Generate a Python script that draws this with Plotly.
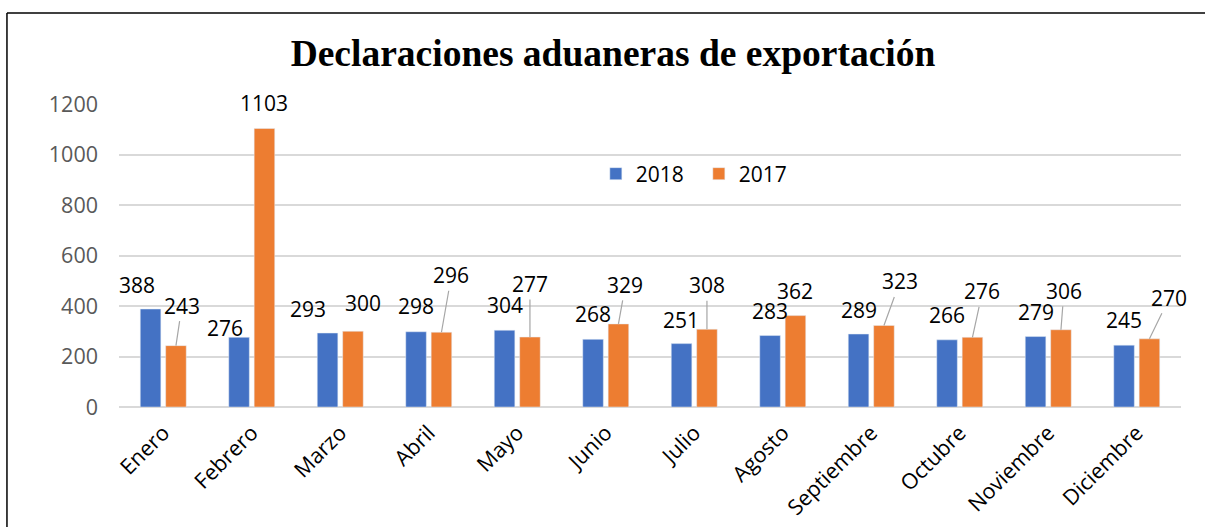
import plotly.graph_objects as go

months = ["Enero", "Febrero", "Marzo", "Abril", "Mayo", "Junio", "Julio",
          "Agosto", "Septiembre", "Octubre", "Noviembre", "Diciembre"]
v2018 = [388, 276, 293, 298, 304, 268, 251, 283, 289, 266, 279, 245]
v2017 = [243, 1103, 300, 296, 277, 329, 308, 362, 323, 276, 306, 270]
yticks = [0, 200, 400, 600, 800, 1000, 1200]

# label placement (pixel offsets from bar top) as in the original chart
off2018 = [(-14, -24), (-14, -9), (-20, -24), (0, -26), (0, -25), (0, -25),
           (-1, -24), (0, -25), (0, -24), (0, -25), (0, -25), (0, -25)]
off2017 = [(6, -40), (0, -25), (10, -28), (10, -57), (0, -53), (7, -39),
           (0, -44), (0, -25), (16, -44), (10, -46), (3, -39), (20, -41)]
leader2017 = [True, False, False, True, True, True, True, False, True, True, True, True]

BLUE = "#4472C4"
ORANGE = "#ED7D31"
FONT = "Open Sans"
bargap = 0.426
bargroupgap = 0.19
half = (1 - bargap) / 4

x = list(range(len(months)))
fig = go.Figure()
fig.add_trace(go.Bar(x=x, y=v2018, name="2018", marker_color=BLUE))
fig.add_trace(go.Bar(x=x, y=v2017, name="2017", marker_color=ORANGE))

ann = []
for i, v in enumerate(v2018):
    dx, dy = off2018[i]
    ann.append(dict(x=i - half, y=v, xref="x", yref="y", text=str(v),
                    showarrow=True, ax=dx, ay=dy, arrowcolor="rgba(0,0,0,0)",
                    arrowhead=0, standoff=0,
                    font=dict(family=FONT, size=21, color="#000000")))
for i, v in enumerate(v2017):
    dx, dy = off2017[i]
    ann.append(dict(x=i + half, y=v, xref="x", yref="y", text=str(v),
                    showarrow=True, ax=dx, ay=dy,
                    arrowcolor="#A6A6A6" if leader2017[i] else "rgba(0,0,0,0)",
                    arrowwidth=1.2, arrowhead=0, standoff=0,
                    font=dict(family=FONT, size=21, color="#000000")))

border = dict(color="#000000", width=1.5)
fig.update_layout(
    width=1205, height=527,
    margin=dict(l=119, r=24, t=104, b=120, autoexpand=False),
    paper_bgcolor="white", plot_bgcolor="white",
    barmode="group", bargap=bargap, bargroupgap=bargroupgap,
    title=dict(text="<b>Declaraciones aduaneras de exportación</b>",
               font=dict(family="Liberation Serif", size=37.5, color="#000000"),
               x=613 / 1205, xanchor="center", xref="container",
               y=0.9, yanchor="middle", yref="container"),
    legend=dict(orientation="h", x=0.449, y=0.769, xanchor="left", yanchor="middle",
                font=dict(family=FONT, size=21, color="#000000"),
                entrywidth=58, entrywidthmode="pixels",
                bgcolor="rgba(0,0,0,0)"),
    xaxis=dict(tickmode="array", tickvals=x, ticktext=months, range=[-0.5, 11.5],
               tickangle=-45, showgrid=False, showline=False, zeroline=False,
               ticks="", ticklabelstandoff=8, automargin=False,
               tickfont=dict(family=FONT, size=21.5, color="#000000")),
    yaxis=dict(range=[0, 1200], tickmode="array", tickvals=yticks,
               showgrid=True, gridcolor="#D9D9D9", gridwidth=1.5,
               zeroline=True, zerolinecolor="#D9D9D9", zerolinewidth=1.5,
               showline=False, ticks="", ticklabelstandoff=20, automargin=False,
               tickfont=dict(family=FONT, size=21.5, color="#595959")),
    annotations=ann,
    shapes=[
        dict(type="line", xref="paper", yref="paper",
             x0=-0.1055, x1=1.03, y0=1.3, y1=1.3, line=border, layer="above"),
        dict(type="line", xref="paper", yref="paper",
             x0=-0.1055, x1=-0.1055, y0=1.3, y1=-0.45, line=border, layer="above"),
    ],
)

fig.write_html("out.html",
               config={"displayModeBar": False},
               post_script="document.documentElement.style.overflow='hidden';"
                           "document.body.style.margin='0';"
                           "document.body.style.overflow='hidden';")
